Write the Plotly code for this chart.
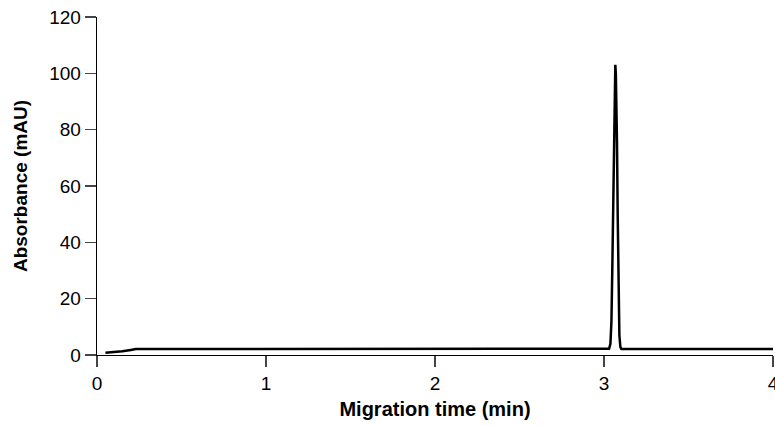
import plotly.graph_objects as go

# Electropherogram trace (migration time in min, absorbance in mAU)
time_min = [0.05, 0.10, 0.15, 0.20, 0.23, 0.50, 0.95, 1.00, 1.05, 1.10, 1.15, 1.20, 1.25, 1.30,
            1.35, 1.40, 1.45, 1.50, 1.55, 1.62, 2.00, 2.50,
            3.000, 3.030, 3.038, 3.044, 3.049, 3.054, 3.058, 3.061, 3.064, 3.067, 3.070,
            3.073, 3.077, 3.081, 3.086, 3.091, 3.097, 3.103, 3.500, 4.000]
absorbance = [0.8, 1.0, 1.3, 1.8, 2.1, 2.1, 2.1, 2.2, 2.05, 2.2, 2.1, 2.2, 2.05, 2.2,
              2.1, 2.2, 2.05, 2.15, 2.1, 2.1, 2.1, 2.1,
              2.1, 2.2, 4.0, 12.0, 30.0, 55.0, 78.0, 92.0, 101.0, 103.0, 100.0,
              92.0, 75.0, 50.0, 22.0, 7.0, 2.8, 2.1, 2.1, 2.1]

x_ticks = [0, 1, 2, 3, 4]
y_ticks = [0, 20, 40, 60, 80, 100, 120]

fig = go.Figure()
fig.add_trace(go.Scatter(x=time_min, y=absorbance, mode="lines",
                         line=dict(color="black", width=2.5), showlegend=False,
                         hoverinfo="skip"))

font_family = "Liberation Sans, Arial, Helvetica, sans-serif"
fig.update_layout(
    width=775, height=426,
    margin=dict(l=97, r=2, t=17, b=71),
    paper_bgcolor="white", plot_bgcolor="white",
    font=dict(family=font_family, size=19, color="black"),
    hovermode=False,
)
fig.update_xaxes(
    range=[0, 4], tickvals=x_ticks, ticks="outside", ticklen=11, tickwidth=1.3,
    showline=True, linecolor="black", linewidth=1.3, showgrid=False, zeroline=False,
    tickfont=dict(size=19), automargin=False, ticklabeloverflow="allow",
    title=dict(text="<b>Migration time (min)</b>", font=dict(size=20), standoff=9),
)
fig.update_yaxes(
    range=[0, 120], tickvals=y_ticks, ticks="outside", ticklen=11, tickwidth=1.3,
    showline=True, linecolor="black", linewidth=1.3, showgrid=False, zeroline=False,
    tickfont=dict(size=19), automargin=False, ticklabeloverflow="allow",
    title=dict(text="<b>Absorbance (mAU)</b>", font=dict(size=19), standoff=16),
)

fig.write_html(
    "out.html",
    config={"displayModeBar": False, "staticPlot": True},
    post_script="document.body.style.margin='0';document.body.style.overflow='hidden';",
)
